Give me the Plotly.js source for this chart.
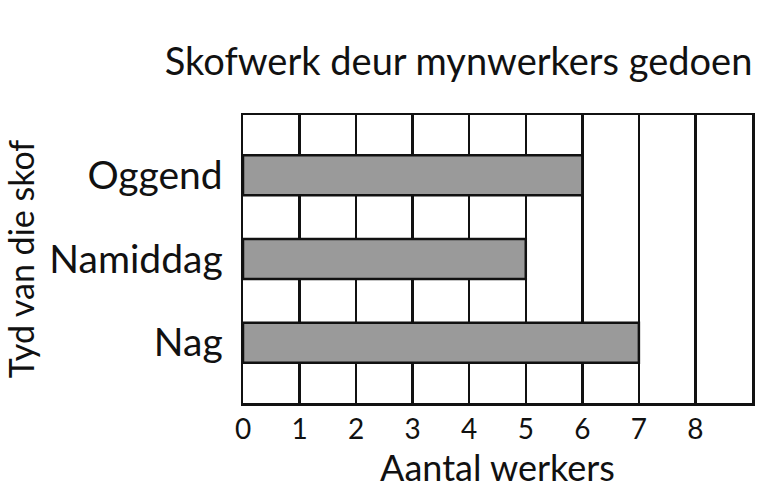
<!DOCTYPE html>
<html>
<head>
<meta charset="utf-8">
<script src="https://cdn.plot.ly/plotly-3.0.1.min.js"></script>
<style>
  html, body { margin: 0; padding: 0; background: #fff; }
  #plot { width: 758px; height: 490px; }
</style>
</head>
<body>
<div id="plot"></div>
<script>
const shifts = ['Oggend', 'Namiddag', 'Nag'];
const workers = [6, 5, 7];
const xTicks = [0, 1, 2, 3, 4, 5, 6, 7, 8];

const font = 'Lato, "Open Sans", sans-serif';

const data = [
    {
        type: 'bar',
        orientation: 'h',
        x: workers,
        y: shifts,
        width: 0.48,
        marker: { color: '#9a9a9a', line: { color: '#111', width: 2.5 } },
        hoverinfo: 'x+y'
    }
];

const layout = {
    width: 758,
    height: 490,
    margin: { l: 243, r: 6, t: 115, b: 87 },
    paper_bgcolor: '#fff',
    plot_bgcolor: '#fff',
    showlegend: false,
    title: {
        text: 'Skofwerk deur mynwerkers gedoen',
        font: { family: font, size: 38, color: '#111' },
        x: 0.605, xanchor: 'center',
        yref: 'container', y: 0.875, yanchor: 'middle'
    },
    xaxis: {
        range: [0, 9],
        tickvals: xTicks,
        ticktext: xTicks.map(String),
        showgrid: true,
        gridcolor: '#111',
        gridwidth: 2.5,
        zeroline: false,
        showline: true,
        linecolor: '#111',
        linewidth: 2.5,
        mirror: true,
        ticks: '',
        tickfont: { family: font, size: 28, color: '#111' },
        title: { text: 'Aantal werkers', font: { family: font, size: 36, color: '#111' }, standoff: 8 },
        automargin: false,
        fixedrange: true
    },
    yaxis: {
        type: 'category',
        range: [2.72, -0.72],
        showgrid: false,
        zeroline: false,
        showline: true,
        linecolor: '#111',
        linewidth: 2.5,
        mirror: true,
        ticks: '',
        ticklabelstandoff: 10,
        tickfont: { family: font, size: 39, color: '#111' },
        title: { text: 'Tyd van die skof', font: { family: font, size: 34, color: '#111' }, standoff: 10 },
        automargin: false,
        fixedrange: true
    }
};

Plotly.newPlot('plot', data, layout, { displayModeBar: false, staticPlot: true });
</script>
</body>
</html>
